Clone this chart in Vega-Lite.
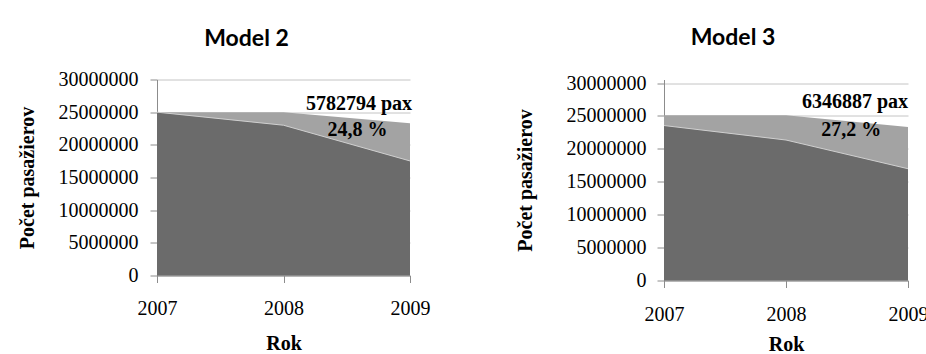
{
  "$schema": "https://vega.github.io/schema/vega-lite/v6.json",
  "padding": {"left": 17, "top": 26.5, "right": 0, "bottom": 0},
  "background": "white",
  "spacing": 85,
  "config": {
    "view": {"stroke": null},
    "axis": {
      "labelFont": "Liberation Serif", "labelFontSize": 20, "labelColor": "black",
      "titleFont": "Liberation Serif", "titleFontSize": 20, "titleFontWeight": "bold", "titleColor": "black",
      "domainColor": "#8c8c8c", "tickColor": "#8c8c8c", "gridColor": "#c4c4c4",
      "labelFlush": false, "labelOverlap": false
    },
    "title": {"font": "Lato", "fontSize": 23, "fontWeight": "bold", "color": "black"},
    "text": {"font": "Liberation Serif", "fontSize": 20, "fontWeight": "bold", "color": "black", "baseline": "middle"}
  },
  "datasets": {
    "m2": [
      {"year": 2007, "total": 25000000, "real": 25000000},
      {"year": 2008, "total": 25000000, "real": 23000000},
      {"year": 2009, "total": 23317720, "real": 17534926, "pax": "5782794 pax", "pct": "24,8 %"}
    ],
    "m3": [
      {"year": 2007, "total": 25100000, "real": 23550000},
      {"year": 2008, "total": 25100000, "real": 21350000},
      {"year": 2009, "total": 23333800, "real": 16986913, "pax": "6346887 pax", "pct": "27,2 %"}
    ]
  },
  "hconcat": [
    {
      "title": {"text": "Model 2", "dx": -37, "offset": 18.5},
      "width": 253, "height": 196,
      "data": {"name": "m2"},
      "encoding": {
        "x": {"field": "year", "type": "ordinal", "scale": {"type": "point", "padding": 0},
          "axis": {"labelAngle": 0, "grid": false, "tickSize": 7, "labelPadding": 16, "title": "Rok", "titlePadding": 15}},
        "y": {"field": "total", "type": "quantitative", "scale": {"domain": [0, 30000000], "nice": false},
            "axis": {"values": [0, 5000000, 10000000, 15000000, 20000000, 25000000, 30000000], "tickCount": 7, "format": "d", "tickSize": 7, "labelPadding": 12, "title": "Počet pasažierov", "titlePadding": 21}}
      },
      "layer": [
        {"mark": {"type": "area", "color": "#a3a3a3"}},
        {"mark": {"type": "area", "color": "#6b6b6b"},
          "encoding": {"y": {"field": "real", "type": "quantitative"}}},
        {"mark": {"type": "line", "color": "#d0d0d0", "strokeWidth": 1},
          "encoding": {"y": {"field": "real", "type": "quantitative"}}},
        {"transform": [{"filter": "datum.pax"}],
          "mark": {"type": "text", "align": "right", "dx": 2, "dy": -19.5},
          "encoding": {"text": {"field": "pax"}}},
        {"transform": [{"filter": "datum.pct"}],
          "mark": {"type": "text", "align": "center", "dx": -52.5, "dy": 7},
          "encoding": {"text": {"field": "pct"}}}
      ]
    },
    {
      "title": {"text": "Model 3", "dx": -53, "offset": 23},
      "width": 244, "height": 201,
      "data": {"name": "m3"},
      "encoding": {
        "x": {"field": "year", "type": "ordinal", "scale": {"type": "point", "padding": 0},
          "axis": {"labelAngle": 0, "grid": false, "tickSize": 7, "labelPadding": 17, "title": "Rok", "titlePadding": 10}},
        "y": {"field": "total", "type": "quantitative", "scale": {"domain": [0, 30547000], "nice": false},
            "axis": {"values": [0, 5000000, 10000000, 15000000, 20000000, 25000000, 30000000], "tickCount": 7, "format": "d", "tickSize": 7, "labelPadding": 11, "title": "Počet pasažierov", "titlePadding": 31}}
      },
      "layer": [
        {"mark": {"type": "area", "color": "#a3a3a3"}},
        {"mark": {"type": "area", "color": "#6b6b6b"},
          "encoding": {"y": {"field": "real", "type": "quantitative"}}},
        {"mark": {"type": "line", "color": "#d0d0d0", "strokeWidth": 1},
          "encoding": {"y": {"field": "real", "type": "quantitative"}}},
        {"transform": [{"filter": "datum.pax"}],
          "mark": {"type": "text", "align": "right", "dy": -25},
          "encoding": {"text": {"field": "pax"}}},
        {"transform": [{"filter": "datum.pct"}],
          "mark": {"type": "text", "align": "center", "dx": -56.7, "dy": 3.5},
          "encoding": {"text": {"field": "pct"}}}
      ]
    }
  ]
}
